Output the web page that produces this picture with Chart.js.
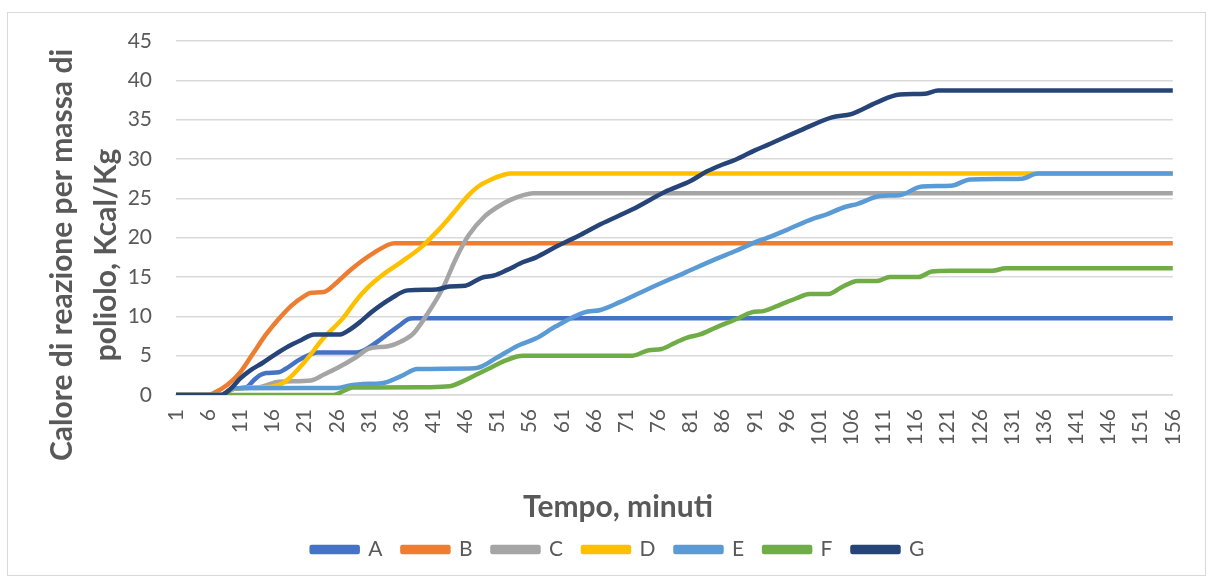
<!DOCTYPE html>
<html>
<head>
<meta charset="utf-8">
<title>Calore di reazione</title>
<script src="https://cdn.jsdelivr.net/npm/chart.js@4.4.1/dist/chart.umd.min.js"></script>
<style>
  html, body { margin: 0; padding: 0; background: #fff; }
  #wrap { position: relative; width: 1212px; height: 578px; }
  #frame { position: absolute; left: 7px; top: 12px; width: 1199px; height: 564px; border: 1px solid #d9d9d9; box-sizing: border-box; }
  canvas { position: absolute; left: 0; top: 0; }
</style>
</head>
<body>
<div id="wrap">
  <div id="frame"></div>
  <canvas id="chart" width="1212" height="578"></canvas>
</div>
<script>
// minute labels shown on the x axis
const tickMinutes = [1, 6, 11, 16, 21, 26, 31, 36, 41, 46, 51, 56, 61, 66, 71, 76, 81, 86, 91, 96,
  101, 106, 111, 116, 121, 126, 131, 136, 141, 146, 151, 156];
const yTicks = [0, 5, 10, 15, 20, 25, 30, 35, 40, 45];
const seriesNames = ["A", "B", "C", "D", "E", "F", "G"];
const seriesColors = ["#4472C4", "#ED7D31", "#A5A5A5", "#FFC000", "#5B9BD5", "#70AD47", "#264478"];

// [minute, Kcal/Kg]
const serieA = [[1,0],[8,0],[10,0.8],[12,1.0],[13,1.8],[14,2.5],[15,2.8],[17,2.9],[18,3.3],[20,4.4],[22,5.2],
  [23,5.4],[29,5.4],[30,5.6],[32,6.6],[34,7.8],[36,9.0],[37,9.6],[38,9.75],[156,9.75]];
const serieB = [[1,0],[6,0],[7,0.3],[9,1.3],[11,2.9],[13,5.3],[15,7.7],[17,9.7],[19,11.4],[21,12.6],[22,13.0],
  [24,13.1],[26,14.3],[28,15.8],[30,17.1],[32,18.2],[34,19.1],[35,19.3],[156,19.3]];
const serieC = [[1,0],[8,0],[10,0.8],[14,1.0],[17,1.7],[22,1.85],[24,2.6],[26,3.4],[29,4.8],[31,5.9],[34,6.2],
  [36,6.8],[38,7.9],[40,10.2],[42.5,13.6],[44.5,17.3],[46.5,20.3],[49,22.7],[51,23.9],[53,24.8],[55,25.4],
  [56.5,25.65],[156,25.65]];
const serieD = [[1,0],[8,0],[10,0.8],[15,1.0],[17,1.3],[18,1.7],[21,4.2],[24,7.3],[27,9.8],[29,12.0],[31,13.8],
  [33,15.2],[36,16.9],[39,18.7],[41.5,20.7],[44,23.0],[46.5,25.4],[48,26.5],[50,27.4],[52,28.0],[53,28.15],
  [156,28.15]];
const serieE = [[1,0],[8,0],[10,0.85],[26,0.9],[28,1.2],[30,1.4],[33,1.5],[36,2.4],[38.5,3.3],[47.5,3.4],[51,4.8],
  [54,6.2],[57,7.2],[60,8.7],[64.5,10.5],[67,10.8],[70,11.8],[75,13.7],[80,15.5],[85,17.3],[88,18.3],[91,19.4],
  [93,20.0],[96,21.0],[100,22.4],[102,22.9],[105,23.9],[107,24.3],[110.5,25.3],[113.5,25.4],[117,26.5],
  [121.5,26.6],[124.5,27.4],[132.5,27.5],[135,28.15],[156,28.15]];
const serieF = [[1,0],[25.5,0],[27,0.5],[28.5,0.95],[40.5,1.0],[43.5,1.1],[45.5,1.7],[47.5,2.5],[50,3.5],[52,4.3],
  [54,4.9],[55,5.0],[72,5.0],[74.5,5.7],[76.5,5.85],[78.5,6.6],[80.5,7.3],[82.5,7.7],[85,8.6],[88,9.6],
  [90.5,10.5],[92.5,10.7],[95,11.5],[97.5,12.3],[99.5,12.85],[102.5,12.85],[104.5,13.7],[107,14.5],[110,14.5],
  [112,15.0],[116.5,15.0],[118.5,15.7],[121.5,15.8],[128,15.8],[130,16.1],[156,16.1]];
const serieG = [[1,0],[8,0],[9.5,0.8],[11,2.1],[12.5,3.1],[14.5,4.1],[16.5,5.2],[18.5,6.2],[20.5,7.0],[22.5,7.7],
  [26.5,7.7],[28,8.3],[29.5,9.2],[31.5,10.6],[34.5,12.3],[37,13.3],[41.5,13.4],[43.5,13.8],[46,13.9],[48.5,14.9],
  [50.5,15.2],[52.5,15.9],[55,16.9],[57,17.5],[60,18.8],[64,20.4],[67,21.7],[72,23.6],[77,25.8],[81,27.2],
  [83.5,28.4],[86,29.3],[88,29.9],[91,31.1],[93,31.8],[98,33.6],[103,35.3],[106,35.7],[110,37.2],[113.5,38.2],
  [117.5,38.3],[119.5,38.7],[156,38.7]];

const allSeries = [serieA, serieB, serieC, serieD, serieE, serieF, serieG];

const yTitle = ["Calore di reazione per massa di", "poliolo, Kcal/Kg"];
const xTitle = "Tempo, minuti";

const textColor = "#595959";
const gridColor = "#d9d9d9";
const fontFamily = "Lato, 'Open Sans', sans-serif";

// axis titles are drawn where Excel put them (not centred on the plot area)
const axisTitles = {
  id: "axisTitles",
  afterDraw(chart) {
    const ctx = chart.ctx;
    ctx.save();
    ctx.fillStyle = textColor;
    ctx.font = "bold 30px " + fontFamily;
    ctx.textAlign = "center";
    ctx.textBaseline = "middle";
    ctx.fillText(xTitle, 618, 507);
    ctx.translate(84, 255);
    ctx.rotate(-Math.PI / 2);
    ctx.fillText(yTitle[0], 0, -22);
    ctx.fillText(yTitle[1], 0, 22);
    ctx.restore();
  }
};

const datasets = allSeries.map((serie, i) => ({
  label: seriesNames[i],
  data: serie.map(p => ({ x: p[0], y: p[1] })),
  borderColor: seriesColors[i],
  backgroundColor: seriesColors[i],
  borderWidth: 4.5,
  borderCapStyle: "round",
  borderJoinStyle: "round",
  pointRadius: 0,
  cubicInterpolationMode: "monotone",
  // last series on top, like Excel
  order: allSeries.length - i
}));

const ctx = document.getElementById("chart").getContext("2d");
new Chart(ctx, {
  type: "line",
  data: { datasets },
  options: {
    responsive: false,
    animation: false,
    layout: { padding: { top: 41, right: 26, left: 50, bottom: 8 } },
    plugins: {
      legend: {
        position: "bottom",
        labels: {
          boxWidth: 46,
          boxHeight: 5,
          padding: 20,
          color: textColor,
          font: { family: fontFamily, size: 21 },
          sort: (a, b) => a.datasetIndex - b.datasetIndex
        }
      },
      tooltip: { enabled: false }
    },
    scales: {
      x: {
        type: "linear",
        min: 1,
        max: 156,
        afterBuildTicks: scale => { scale.ticks = tickMinutes.map(v => ({ value: v })); },
        afterFit: scale => { scale.height = 124; },
        grid: { display: false, drawTicks: false },
        border: { display: true, color: gridColor, width: 1.5 },
        ticks: {
          autoSkip: false,
          minRotation: 90,
          maxRotation: 90,
          padding: 14,
          color: textColor,
          font: { family: fontFamily, size: 21 }
        }
      },
      y: {
        min: 0,
        max: 45,
        afterBuildTicks: scale => { scale.ticks = yTicks.map(v => ({ value: v })); },
        afterFit: scale => { scale.width = 126; },
        grid: { color: gridColor, lineWidth: 1.5, drawTicks: false },
        border: { display: false },
        ticks: {
          padding: 24,
          color: textColor,
          font: { family: fontFamily, size: 21 }
        }
      }
    }
  },
  plugins: [axisTitles]
});
</script>
</body>
</html>
